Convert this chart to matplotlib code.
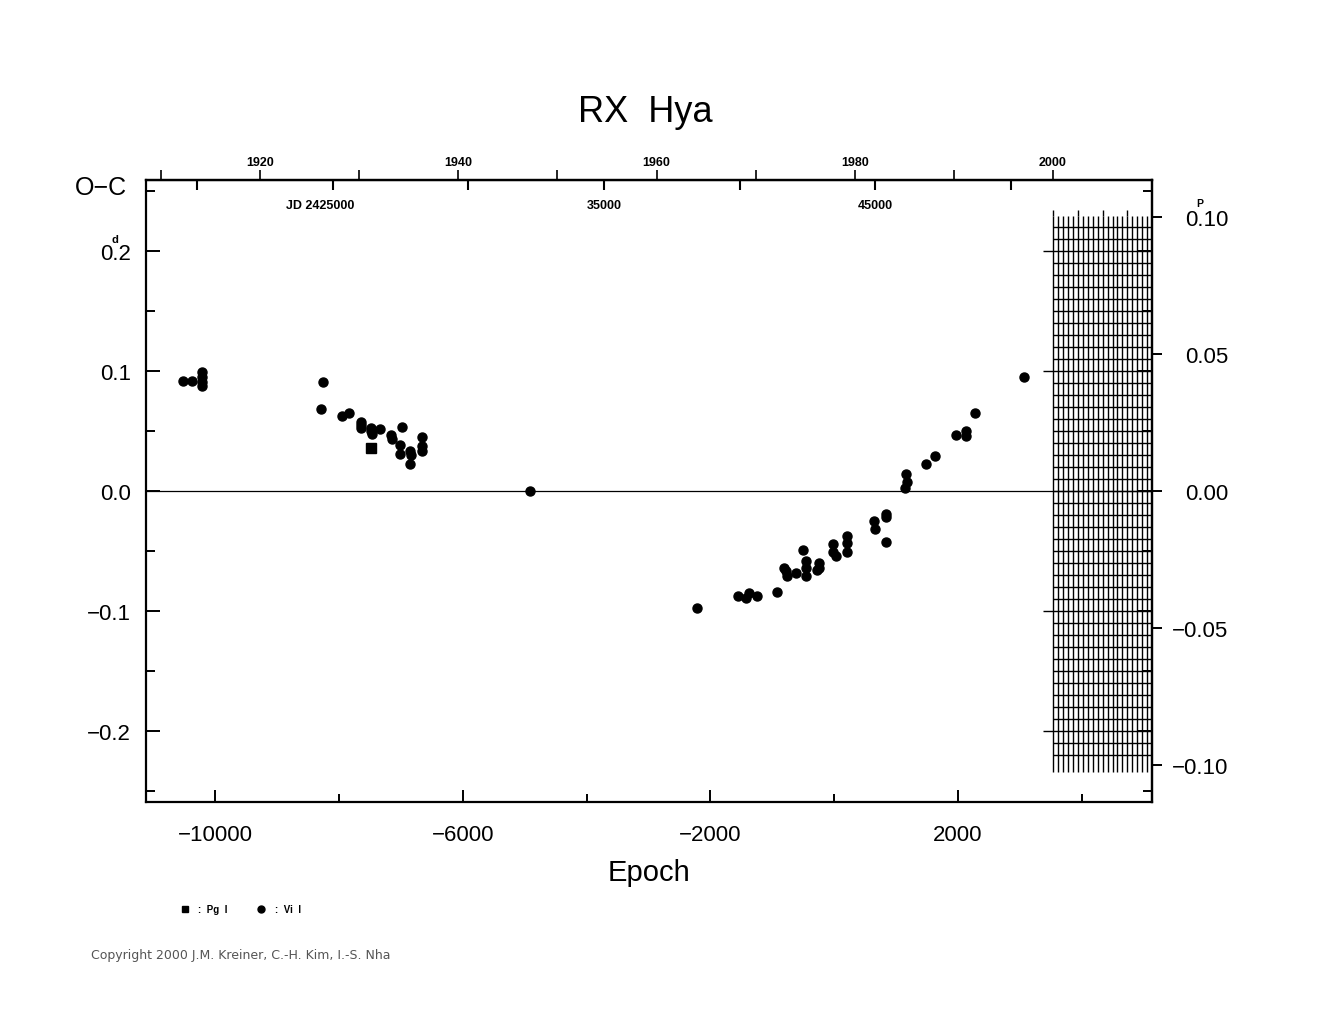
import matplotlib
matplotlib.use('Agg')
import matplotlib.pyplot as plt
import numpy as np
from matplotlib.lines import Line2D

plt.rcParams['font.family'] = ['Liberation Sans', 'DejaVu Sans']

# elements of RX Hya
P = 2.2811
JD0 = 2443480.0

# Vi I (visual) minima: epoch, O-C [d]
vi_epoch = [-10515, -10370, -10206, -10206, -10206, -10206,
            -8262, -8286, -7956, -7833, -7650, -7650, -7650, -7488, -7488, -7472,
            -7332, -7165, -7143, -6977, -7014, -7019, -6853, -6842, -6853,
            -6664, -6664, -6664,
            -4914,
            -2211, -1559, -1425, -1371, -1242, -919, -811, -779, -767, -617,
            -499, -456, -456, -456, -283, -250, -250, -24, -15, 29,
            202, 202, 202, 643, 664, 837, 837, 837,
            1160, 1171, 1144, 1483, 1633, 1968, 2129, 2129, 2275, 3071]
vi_oc = [0.0914, 0.0919, 0.0989, 0.0948, 0.0906, 0.0873,
         0.0911, 0.0683, 0.0622, 0.0650, 0.0578, 0.0550, 0.0522, 0.0525, 0.0497, 0.0472,
         0.0517, 0.0467, 0.0433, 0.0531, 0.0383, 0.0308, 0.0336, 0.0300, 0.0225,
         0.0447, 0.0378, 0.0336,
         0.0,
         -0.0972, -0.0872, -0.0894, -0.0853, -0.0875, -0.0839, -0.0642, -0.0669, -0.0706, -0.0683,
         -0.0489, -0.0581, -0.0642, -0.0706, -0.0656, -0.0600, -0.0644, -0.0442, -0.0511, -0.0544,
         -0.0372, -0.0433, -0.0511, -0.0253, -0.0317, -0.0192, -0.0219, -0.0428,
         0.0142, 0.0078, 0.0022, 0.0225, 0.0292, 0.0467, 0.0503, 0.0456, 0.0647, 0.0947]

# Pg I (photographic) minima
pg_epoch = [-7486]
pg_oc = [0.0356]

x_major = [-10000, -6000, -2000, 2000]
x_major_lab = ['\u221210000', '\u22126000', '\u22122000', '2000']
x_minor = [-8000, -4000, 0, 4000]
y_major = [-0.2, -0.1, 0.0, 0.1, 0.2]
y_major_lab = ['\u22120.2', '\u22120.1', '0.0', '0.1', '0.2']
y_minor = [-0.25, -0.15, -0.05, 0.05, 0.15, 0.25]
p_ticks = [-0.10, -0.05, 0.0, 0.05, 0.10]
p_lab = ['\u22120.10', '\u22120.05', '0.00', '0.05', '0.10']
yr_major = [1920, 1940, 1960, 1980, 2000]
yr_minor = [1910, 1930, 1950, 1970, 1990, 2010]
jd_major = [25000, 35000, 45000]
jd_lab = ['JD 2425000       ', '35000', '45000']
jd_minor = [20000, 30000, 40000, 50000]


def e2yr(e):
    return 2000 + (JD0 + np.asarray(e) * P - 2451544.5) / 365.25


def yr2e(y):
    return ((np.asarray(y) - 2000) * 365.25 + 2451544.5 - JD0) / P


def e2jd(e):
    return JD0 - 2400000 + np.asarray(e) * P


def jd2e(j):
    return (np.asarray(j) + 2400000 - JD0) / P


fig = plt.figure(figsize=(13.25, 10.2), dpi=100)
ax = fig.add_axes([0.1102, 0.2127, 0.7592, 0.6098])
ax.set_xlim(-11115, 5133)
ax.set_ylim(-0.2592, 0.2592)

for s in ax.spines.values():
    s.set_linewidth(1.6)

ax.axhline(0.0, color='k', lw=0.9)

# hatched "future" region from 2000 on
yrs = np.arange(2000, 2010, 0.5)
tall = yrs[::5]
ax.vlines(yr2e(yrs), -0.234, 0.229, color='k', lw=1.0)
ax.vlines(yr2e(tall), 0.229, 0.234, color='k', lw=1.0)
hl = np.round(np.arange(-0.22, 0.2201, 0.01), 2)
ax.hlines(hl, yr2e(2000), ax.get_xlim()[1], color='k', lw=1.0)
ax.hlines([-0.2, -0.1, 0.1, 0.2], yr2e(1999), yr2e(2000), color='k', lw=1.0)

ax.plot(vi_epoch, vi_oc, 'o', color='k', markersize=6.5, zorder=5)
ax.plot(pg_epoch, pg_oc, 's', color='k', markersize=6.5, zorder=5)

ax.set_xticks(x_major, x_major_lab)
ax.set_xticks(x_minor, minor=True)
ax.set_yticks(y_major, y_major_lab)
ax.set_yticks(y_minor, minor=True)
ax.tick_params(axis='x', which='both', direction='in', top=False, labelsize=16, pad=16, width=1.4)
ax.tick_params(axis='x', which='major', length=9)
ax.tick_params(axis='x', which='minor', length=6)
ax.tick_params(axis='y', which='both', direction='in', right=True, labelsize=16, pad=11, width=1.4)
ax.tick_params(axis='y', which='major', length=10)
ax.tick_params(axis='y', which='minor', length=6.5)
ax.set_xlabel('Epoch', fontsize=21, labelpad=9)

# right axis in units of period
pax = ax.secondary_yaxis('right', functions=(lambda d: d / P, lambda p: p * P))
pax.set_yticks(p_ticks, p_lab)
pax.tick_params(direction='out', length=7, width=1.4, labelsize=16, pad=48)
for t in pax.get_yticklabels():
    t.set_ha('right')
pax.spines['right'].set_linewidth(1.6)

# top axes: years and JD
yax = ax.secondary_xaxis('top', functions=(e2yr, yr2e))
yax.set_xticks(yr_major, [str(v) for v in yr_major], fontweight='bold', fontsize=9)
yax.set_xticks(yr_minor, minor=True)
yax.tick_params(which='both', direction='out', length=7, width=1.2, pad=2)
yax.spines['top'].set_linewidth(1.6)

jax = ax.secondary_xaxis('top', functions=(e2jd, jd2e))
jax.set_xticks(jd_major, jd_lab, fontweight='bold', fontsize=9)
jax.set_xticks(jd_minor, minor=True)
jax.tick_params(which='both', direction='in', length=7, width=1.5, pad=-22)

# superscript units
ax.annotate('d', xy=(0, 0.2), xycoords=ax.get_yaxis_transform(), xytext=(-22.5, 9),
            textcoords='offset points', fontsize=8, fontweight='bold', ha='center', va='center')
ax.annotate('P', xy=(1, 0.10 * P), xycoords=ax.get_yaxis_transform(), xytext=(34.5, 10),
            textcoords='offset points', fontsize=7.5, fontweight='bold', ha='center', va='center')

fig.text(0.0566, 1 - 188 / 1020, 'O\u2212C', fontsize=18, va='center', ha='left')
fig.text(645 / 1325, 1 - 113 / 1020, 'RX  Hya', fontsize=26, ha='center', va='center')

handles = [Line2D([], [], marker='s', color='k', linestyle='none', markersize=5),
           Line2D([], [], marker='o', color='k', linestyle='none', markersize=5)]
fig.legend(handles, [':  Pg  I', ':  Vi  I'], loc='center left', bbox_to_anchor=(0.13, 1 - 910 / 1020),
           ncol=2, frameon=False, prop={'size': 7, 'weight': 'bold'},
           handlelength=0.8, handletextpad=1.0, columnspacing=3.0)

fig.text(91 / 1325, 1 - 956 / 1020, 'Copyright 2000 J.M. Kreiner, C.-H. Kim, I.-S. Nha',
         fontsize=9, color='#555555', family='DejaVu Sans', va='center')

fig.savefig('out.png', dpi=100)
